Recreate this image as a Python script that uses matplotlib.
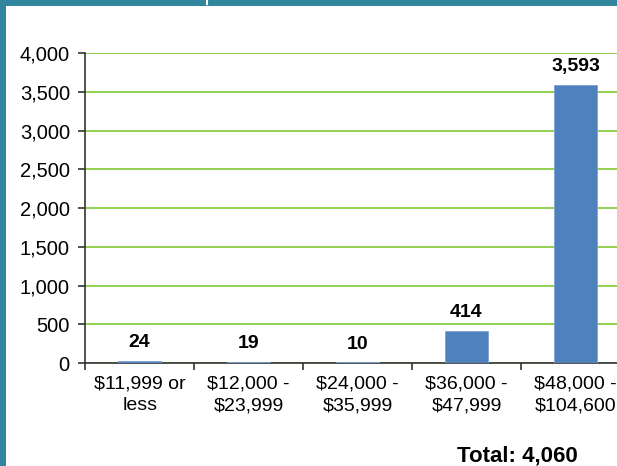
import matplotlib.pyplot as plt
from matplotlib.lines import Line2D

# data
categories = ["$11,999 or\nless", "$12,000 -\n$23,999", "$24,000 -\n$35,999",
              "$36,000 -\n$47,999", "$48,000 -\n$104,600"]
counts = [24, 19, 10, 414, 3593]
total_label = "Total: 4,060"

plt.rcParams['font.family'] = ['Liberation Sans', 'DejaVu Sans']

fig = plt.figure(figsize=(6.17, 4.66), dpi=100)
fig.patch.set_facecolor("white")

# axes run past the right edge, as in the cropped reference
ax = fig.add_axes([0.138, 0.221, 0.883, 0.665])
x = list(range(len(categories)))
ax.bar(x, counts, width=0.4, color="#4f81bd", edgecolor="#7da3d3", linewidth=0.6, zorder=3)

ax.set_xlim(-0.5, len(categories) - 0.5)
ax.set_ylim(0, 4000)
ax.set_yticks(range(0, 4001, 500))
ax.set_yticklabels([f"{v:,}" for v in range(0, 4001, 500)], fontsize=14.5)
ax.yaxis.grid(True, color="#92d050", linewidth=1.4, zorder=0)
ax.set_axisbelow(True)

# category labels centred, ticks on the boundaries
ax.set_xticks(x)
ax.set_xticklabels(categories, fontsize=14, linespacing=1.35)
ax.tick_params(axis='x', length=0, pad=9)
ax.set_xticks([i - 0.5 for i in range(len(categories) + 1)], minor=True)
ax.tick_params(axis='x', which='minor', length=5, width=1.2, color="#333333")
ax.tick_params(axis='y', length=5, width=1.2, color="#333333", pad=6)

for side in ["top", "right"]:
    ax.spines[side].set_visible(False)
for side in ["left", "bottom"]:
    ax.spines[side].set_color("#333333")
    ax.spines[side].set_linewidth(1.2)

for xi, v in zip(x, counts):
    ax.annotate(f"{v:,}", (xi, v), xytext=(0, 7), textcoords="offset points",
                ha="center", va="bottom", fontsize=14, fontweight="bold")

fig.text(517 / 617, 1 - 456 / 466, total_label, ha="center", va="center",
         fontsize=16, fontweight="bold")

# teal frame pieces visible at the left and top
fig.add_artist(Line2D([0.0035, 0.0035], [0, 1], transform=fig.transFigure,
                      color="#31859c", linewidth=5))
fig.add_artist(Line2D([0, 1], [0.9965, 0.9965], transform=fig.transFigure,
                      color="#31859c", linewidth=5))
fig.add_artist(Line2D([207 / 617, 207 / 617], [0.992, 1], transform=fig.transFigure,
                      color="white", linewidth=1.5))

fig.savefig("out.png", dpi=100)
